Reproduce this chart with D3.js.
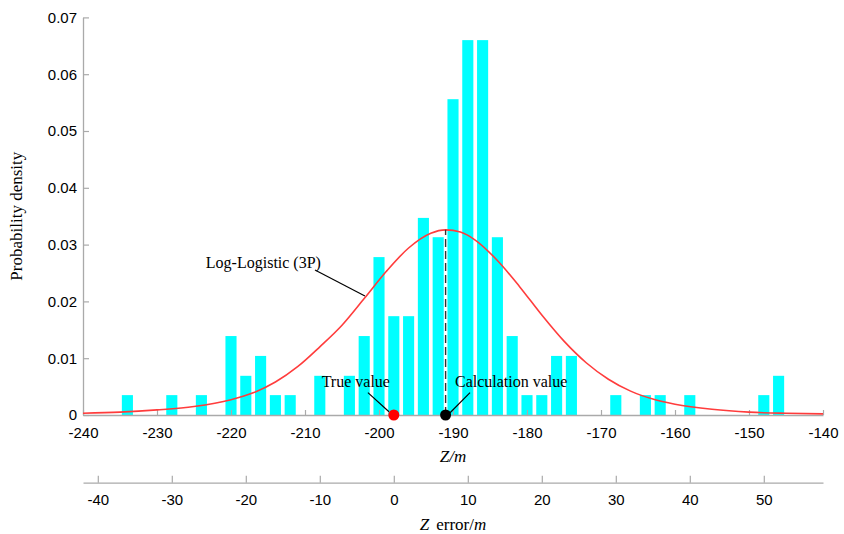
<!DOCTYPE html>
<html>
<head>
<meta charset="utf-8">
<script src="https://cdn.jsdelivr.net/npm/d3@7"></script>
<style>
  body { margin: 0; background: #fff; }
  svg { display: block; }
  .tick text { font-family: "Liberation Sans", Arial, sans-serif; font-size: 15px; fill: #000; }
  .serif { font-family: "Liberation Serif", "Times New Roman", serif; }
</style>
</head>
<body>
<div id="chart"></div>
<script>
// histogram bins (bin centre in m) and their density
const binCenters = [-234, -228, -224, -220, -218, -216, -214, -212, -208, -204, -202, -200, -198, -196,
  -194, -192, -190, -188, -186, -184, -182, -180, -178, -176, -174, -168, -164, -162, -158, -148, -146];
const binDensity = [0.0035, 0.0035, 0.0035, 0.0139, 0.0069, 0.0104, 0.0035, 0.0035, 0.0069, 0.0069, 0.0139, 0.0278, 0.0174, 0.0174,
  0.0347, 0.0313, 0.0556, 0.066, 0.066, 0.0313, 0.0139, 0.0035, 0.0035, 0.0104, 0.0104, 0.0035, 0.0035, 0.0035, 0.0035, 0.0035, 0.0069];

// fitted Log-Logistic (3P) curve
const curveX = [-240, -235, -230, -225, -220, -217, -214, -211, -208, -205, -202, -199, -196, -193, -191,
  -189, -187, -184, -181, -178, -175, -172, -169, -166, -163, -160, -155, -150, -145, -140];
const curveY = [0.0003, 0.0005, 0.0009, 0.0015, 0.0027, 0.0039, 0.0058, 0.0085, 0.012, 0.0158, 0.0205, 0.0253, 0.0294, 0.032, 0.0326,
  0.0322, 0.0308, 0.0272, 0.0226, 0.0176, 0.013, 0.0092, 0.0063, 0.0042, 0.0028, 0.0019, 0.001, 0.0005, 0.0003, 0.0002];

const trueValue = -198;
const calcValue = -191;
const peakDensity = 0.0326;

const xTicks = [-240, -230, -220, -210, -200, -190, -180, -170, -160, -150, -140];
const yTicks = [0, 0.01, 0.02, 0.03, 0.04, 0.05, 0.06, 0.07];
const errTicks = [-40, -30, -20, -10, 0, 10, 20, 30, 40, 50];

const width = 844, height = 534;
const margin = {top: 17.4, right: 21, bottom: 119, left: 83};
const binWidth = 2;

const svg = d3.select('#chart').append('svg')
  .attr('width', width)
  .attr('height', height);

const x = d3.scaleLinear()
  .domain([-240, -140])
  .range([margin.left, width - margin.right]);

const y = d3.scaleLinear()
  .domain([0, 0.07])
  .range([height - margin.bottom, margin.top]);

// error axis: Z error = Z - true value
const xErr = d3.scaleLinear()
  .domain([-240 - trueValue, -140 - trueValue])
  .range(x.range());

const bins = binCenters.map((c, i) => ({c, v: binDensity[i]}));

svg.append('g')
  .selectAll('rect')
  .data(bins)
  .join('rect')
  .attr('x', d => x(d.c - binWidth * 0.375))
  .attr('width', d => x(d.c + binWidth * 0.375) - x(d.c - binWidth * 0.375))
  .attr('y', d => y(d.v))
  .attr('height', d => y(0) - y(d.v))
  .attr('fill', '#00ffff');

const fmt = d => String(d);

// main x axis
const gx = svg.append('g')
  .attr('transform', `translate(0,${y(0)})`)
  .call(d3.axisBottom(x).tickValues(xTicks).tickFormat(fmt).tickSizeInner(-5).tickSizeOuter(0).tickPadding(12));

// y axis
const gy = svg.append('g')
  .attr('transform', `translate(${x(-240)},0)`)
  .call(d3.axisLeft(y).tickValues(yTicks).tickFormat(fmt).tickSizeInner(-6).tickSizeOuter(0).tickPadding(6));

// error axis
const gErr = svg.append('g')
  .attr('transform', `translate(0,482.7)`)
  .call(d3.axisBottom(xErr).tickValues(errTicks).tickFormat(fmt).tickSizeInner(-7).tickSizeOuter(0).tickPadding(12));

[gx, gy, gErr].forEach(g => {
  g.select('.domain').attr('stroke', '#aaa').attr('stroke-width', 1.3);
  g.selectAll('.tick line').attr('stroke', '#aaa').attr('stroke-width', 1.2);
});

// fitted curve
const curve = curveX.map((v, i) => [v, curveY[i]]);
svg.append('path')
  .datum(curve)
  .attr('fill', 'none')
  .attr('stroke', '#ff3c3c')
  .attr('stroke-width', 1.6)
  .attr('d', d3.line().x(d => x(d[0])).y(d => y(d[1])).curve(d3.curveMonotoneX));

// dashed line at calculation value
svg.append('line')
  .attr('x1', x(calcValue)).attr('x2', x(calcValue))
  .attr('y1', y(0)).attr('y2', y(peakDensity))
  .attr('stroke', '#333')
  .attr('stroke-width', 1.4)
  .attr('stroke-dasharray', '8,4');

// annotation leaders
const leaders = [
  {x1: -208.65, y1: 0.02553, x2: -201.9, y2: 0.02095},
  {x1: -201.5, y1: 0.00393, x2: -198.65, y2: 0.00058},
  {x1: -187.7, y1: 0.00393, x2: -190.4, y2: 0.0004}
];
svg.append('g')
  .selectAll('line')
  .data(leaders)
  .join('line')
  .attr('x1', d => x(d.x1)).attr('y1', d => y(d.y1))
  .attr('x2', d => x(d.x2)).attr('y2', d => y(d.y2))
  .attr('stroke', '#000')
  .attr('stroke-width', 1.2);

const notes = [
  {t: 'Log-Logistic (3P)', x: -223.4, y: 0.0258},
  {t: 'True value', x: -207.75, y: 0.00493},
  {t: 'Calculation value', x: -189.73, y: 0.00493}
];
svg.append('g')
  .selectAll('text')
  .data(notes)
  .join('text')
  .attr('class', 'serif')
  .attr('x', d => x(d.x))
  .attr('y', d => y(d.y))
  .attr('font-size', 16)
  .text(d => d.t);

// value dots
svg.append('circle')
  .attr('cx', x(trueValue)).attr('cy', y(0)).attr('r', 5.5)
  .attr('fill', '#ff0000');
svg.append('circle')
  .attr('cx', x(calcValue)).attr('cy', y(0)).attr('r', 5.5)
  .attr('fill', '#000');

// axis titles
svg.append('text')
  .attr('class', 'serif')
  .attr('x', x(-190))
  .attr('y', 462)
  .attr('text-anchor', 'middle')
  .attr('font-size', 17)
  .attr('font-style', 'italic')
  .text('Z/m');

const errTitle = svg.append('text')
  .attr('class', 'serif')
  .attr('x', x(-190))
  .attr('y', 530)
  .attr('text-anchor', 'middle')
  .attr('font-size', 17);
errTitle.append('tspan').attr('font-style', 'italic').text('Z');
errTitle.append('tspan').attr('dx', 7).text('error/');
errTitle.append('tspan').attr('font-style', 'italic').text('m');

svg.append('text')
  .attr('class', 'serif')
  .attr('transform', `translate(22,${y(0.035)}) rotate(-90)`)
  .attr('text-anchor', 'middle')
  .attr('font-size', 17)
  .text('Probability density');
</script>
</body>
</html>
